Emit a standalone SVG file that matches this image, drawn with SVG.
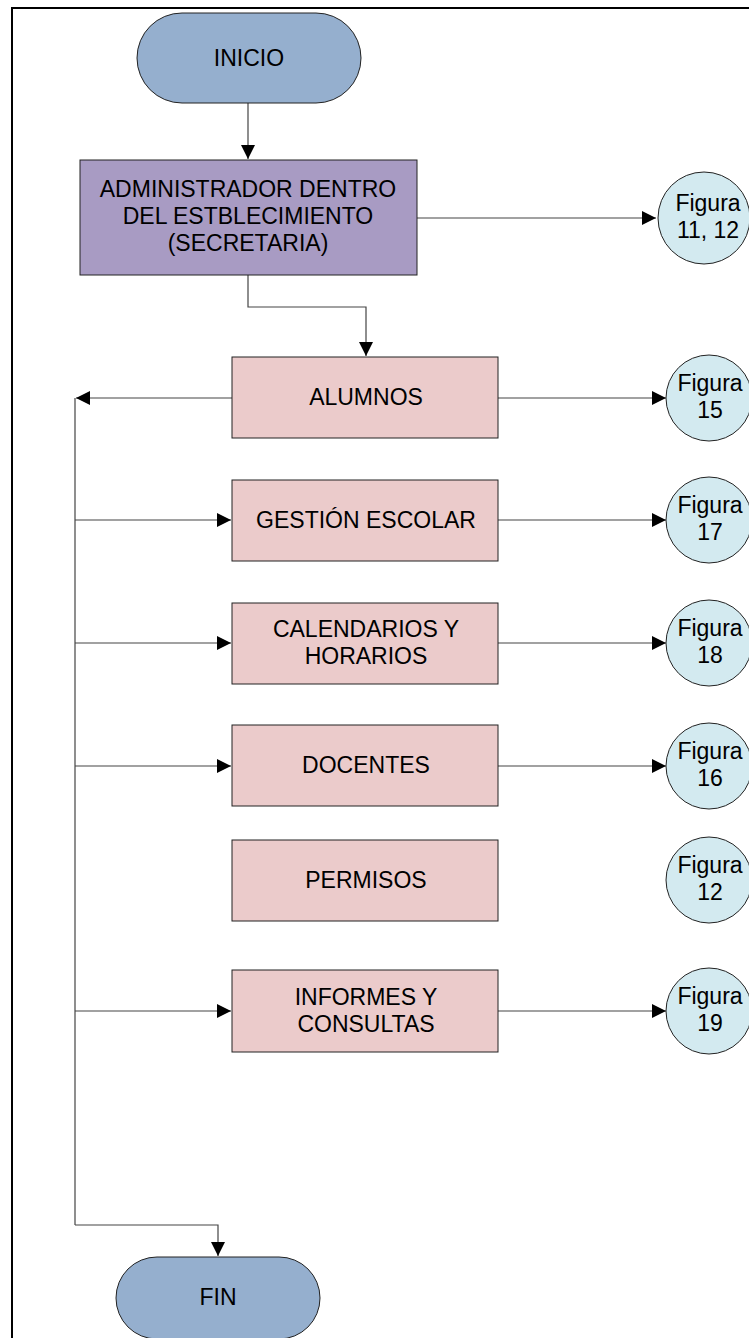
<svg xmlns="http://www.w3.org/2000/svg" width="749" height="1338" viewBox="0 0 749 1338">
  <defs>
    <marker id="arrow" viewBox="0 0 14 14" refX="14" refY="7" markerWidth="14" markerHeight="14" markerUnits="userSpaceOnUse" orient="auto">
      <path d="M0,0 L14,7 L0,14 Z" fill="#000"/>
    </marker>
    <style>
      .frame { fill: none; stroke: #000; stroke-width: 2; }
      .term { fill: #95AFCE; stroke: #222; stroke-width: 1; }
      .admin { fill: #A89BC3; stroke: #222; stroke-width: 1; }
      .proc { fill: #EBCBCB; stroke: #222; stroke-width: 1; }
      .ref { fill: #D3EAF0; stroke: #222; stroke-width: 1; }
      .lbl { font-family: "Liberation Sans", Arial, sans-serif; font-size: 23px; fill: #000; text-anchor: middle; }
      .conn path { fill: none; stroke: #444; stroke-width: 1.2; }
      .conn path.arr { marker-end: url(#arrow); }
    </style>
  </defs>

  <rect width="749" height="1338" fill="#fff"/>
  <!-- outer frame -->
  <path class="frame" d="M12,1340 V8 H751"/>

  <!-- connectors -->
  <g id="connectors" class="conn">
    <path class="arr" d="M248,103 V159"/>
    <path class="arr" d="M417,218 H656"/>
    <path class="arr" d="M248,275 V307 H366 V356"/>
    <path class="arr" d="M232,398 H76"/>
    <path class="arr" d="M498,398 H666"/>
    <path d="M75,398 V1225"/>
    <path class="arr" d="M75,520 H231"/>
    <path class="arr" d="M498,520 H666"/>
    <path class="arr" d="M75,643 H231"/>
    <path class="arr" d="M498,643 H666"/>
    <path class="arr" d="M75,766 H231"/>
    <path class="arr" d="M498,766 H666"/>
    <path class="arr" d="M75,1011 H231"/>
    <path class="arr" d="M498,1011 H666"/>
    <path class="arr" d="M75,1225 H218 V1256"/>
  </g>

  <g id="inicio">
    <rect class="term" x="137" y="13" width="224" height="90" rx="45" ry="45"/>
    <text class="lbl" x="249" y="66">INICIO</text>
  </g>

  <g id="administrador">
    <rect class="admin" x="80" y="160" width="337" height="115"/>
    <text class="lbl" x="248" y="197">ADMINISTRADOR DENTRO</text>
    <text class="lbl" x="248" y="224">DEL ESTBLECIMIENTO</text>
    <text class="lbl" x="248" y="251">(SECRETARIA)</text>
  </g>

  <g id="fig-11-12">
    <circle class="ref" cx="704" cy="218" r="46"/>
    <text class="lbl" x="708" y="211">Figura</text>
    <text class="lbl" x="708" y="238">11, 12</text>
  </g>

  <g id="alumnos">
    <rect class="proc" x="232" y="357" width="266" height="81"/>
    <text class="lbl" x="366" y="405">ALUMNOS</text>
  </g>
  <g id="fig-15">
    <circle class="ref" cx="709" cy="398" r="43"/>
    <text class="lbl" x="710" y="391">Figura</text>
    <text class="lbl" x="710" y="418">15</text>
  </g>

  <g id="gestion-escolar">
    <rect class="proc" x="232" y="480" width="266" height="81"/>
    <text class="lbl" x="366" y="528">GESTIÓN ESCOLAR</text>
  </g>
  <g id="fig-17">
    <circle class="ref" cx="709" cy="520" r="43"/>
    <text class="lbl" x="710" y="513">Figura</text>
    <text class="lbl" x="710" y="540">17</text>
  </g>

  <g id="calendarios">
    <rect class="proc" x="232" y="603" width="266" height="81"/>
    <text class="lbl" x="366" y="637">CALENDARIOS Y</text>
    <text class="lbl" x="366" y="664">HORARIOS</text>
  </g>
  <g id="fig-18">
    <circle class="ref" cx="709" cy="643" r="43"/>
    <text class="lbl" x="710" y="636">Figura</text>
    <text class="lbl" x="710" y="663">18</text>
  </g>

  <g id="docentes">
    <rect class="proc" x="232" y="725" width="266" height="81"/>
    <text class="lbl" x="366" y="773">DOCENTES</text>
  </g>
  <g id="fig-16">
    <circle class="ref" cx="709" cy="766" r="43"/>
    <text class="lbl" x="710" y="759">Figura</text>
    <text class="lbl" x="710" y="786">16</text>
  </g>

  <g id="permisos">
    <rect class="proc" x="232" y="840" width="266" height="81"/>
    <text class="lbl" x="366" y="888">PERMISOS</text>
  </g>
  <g id="fig-12">
    <circle class="ref" cx="709" cy="880" r="43"/>
    <text class="lbl" x="710" y="873">Figura</text>
    <text class="lbl" x="710" y="900">12</text>
  </g>

  <g id="informes">
    <rect class="proc" x="232" y="970" width="266" height="82"/>
    <text class="lbl" x="366" y="1005">INFORMES Y</text>
    <text class="lbl" x="366" y="1032">CONSULTAS</text>
  </g>
  <g id="fig-19">
    <circle class="ref" cx="709" cy="1011" r="43"/>
    <text class="lbl" x="710" y="1004">Figura</text>
    <text class="lbl" x="710" y="1031">19</text>
  </g>

  <g id="fin">
    <rect class="term" x="116" y="1257" width="204" height="82" rx="41" ry="41"/>
    <text class="lbl" x="218" y="1305">FIN</text>
  </g>
</svg>
